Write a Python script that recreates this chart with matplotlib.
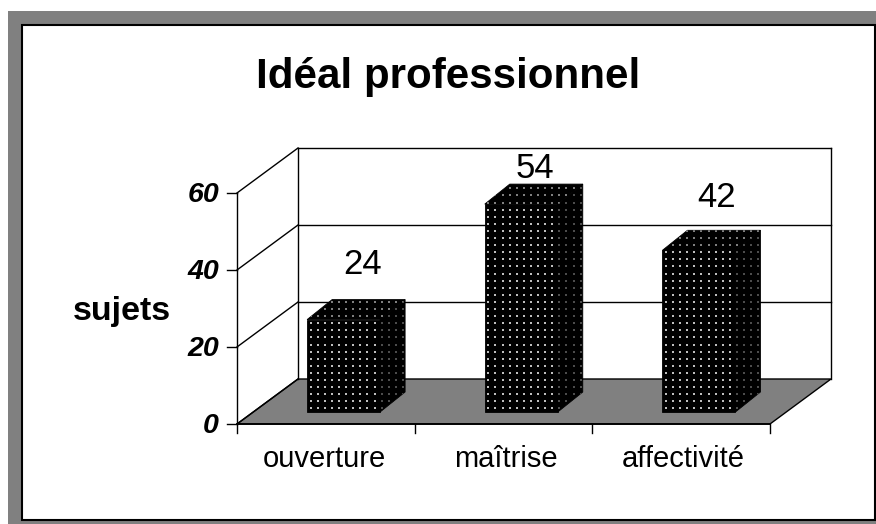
import numpy as np
import matplotlib
matplotlib.use('Agg')
import matplotlib.pyplot as plt
from matplotlib.patches import Polygon, Rectangle

plt.rcParams['font.family'] = ['Liberation Sans', 'DejaVu Sans']

# Donnees
categories = ['ouverture', 'maîtrise', 'affectivité']
sujets = [24, 54, 42]
yticks = [0, 20, 40, 60]

W, H = 876, 524
GRIS = '#808080'

fig = plt.figure(figsize=(W / 100, H / 100), dpi=100, facecolor='white')

# cadre gris + zone blanche, en pixels de la figure
bg = fig.add_axes([0, 0, 1, 1])
bg.set_xlim(0, W)
bg.set_ylim(H, 0)
bg.axis('off')
bg.add_patch(Rectangle((8, 11), W - 8, H - 11, fc=GRIS, ec='none'))
bg.add_patch(Rectangle((21.5, 24.5), 853, 495, fc='white', ec='black', lw=1.5))

# axe principal : la face avant du graphique 3D
x0, x1, y0, y1 = 237, 770, 424, 193
ax = fig.add_axes([x0 / W, 1 - y0 / H, (x1 - x0) / W, (y0 - y1) / H])
ax.set_xlim(0, 3)
ax.set_ylim(0, 60)
ax.patch.set_alpha(0)
for s in ax.spines.values():
    s.set_visible(False)
ax.set_xticks([])
ax.set_yticks([])

# unites de donnees par pixel
ux = 3 / (x1 - x0)
uy = 60 / (y0 - y1)

# profondeur du graphique
dx = 61 * ux
dy = 45 * uy
LW = 1.0

# sol
ax.add_patch(Polygon([(0, 0), (3, 0), (3 + dx, dy), (dx, dy)], fc=GRIS, ec='black',
                     lw=LW, clip_on=False, zorder=1))

# murs et grille
ax.plot([dx, dx], [dy, 60 + dy], color='black', lw=LW, clip_on=False, zorder=1)
ax.plot([3 + dx, 3 + dx], [dy, 60 + dy], color='black', lw=LW, clip_on=False, zorder=1)
ax.plot([0, 0], [0, 60], color='black', lw=LW, clip_on=False, zorder=1)
for v in yticks:
    ax.plot([0, dx], [v, v + dy], color='black', lw=LW, clip_on=False, zorder=1)
    if v > 0:
        ax.plot([dx, 3 + dx], [v + dy, v + dy], color='black', lw=LW, clip_on=False, zorder=1)
    ax.plot([-10 * ux, 0], [v, v], color='black', lw=LW, clip_on=False, zorder=1)
    ax.text(-18 * ux, v - 9 * uy, str(v), ha='right', va='baseline', fontsize=20.5,
            fontweight='bold', fontstyle='italic', clip_on=False)

# axe x
ax.plot([0, 3], [0, 0], color='black', lw=1.3, clip_on=False, zorder=2)
for i in range(4):
    ax.plot([i, i], [0, -2.4], color='black', lw=LW, clip_on=False, zorder=2)

# barres
bw = 73 * ux
bdx = 25 * ux
bdy = 20 * uy
bx = 0.6
by = 12 * uy
pas_x = 7.1 * ux
pas_y = 7.1 * uy

# decalages des etiquettes (pixels) et centres des categories
lab_dx = [18.5, 14, 18]
lab_dy = [26, 6.5, 23]
cat_dx = [-1, 2.5, 2]

for i, (cat, v) in enumerate(zip(categories, sujets)):
    left = i + bx - bw / 2
    right = left + bw
    front = Polygon([(left, by), (right, by), (right, by + v), (left, by + v)],
                    fc='black', ec='black', lw=0.6, clip_on=False, zorder=3)
    side = Polygon([(right, by), (right + bdx, by + bdy), (right + bdx, by + v + bdy), (right, by + v)],
                   fc='black', ec='black', lw=0.6, clip_on=False, zorder=3)
    top = Polygon([(left, by + v), (right, by + v), (right + bdx, by + v + bdy), (left + bdx, by + v + bdy)],
                  fc='black', ec='black', lw=0.6, clip_on=False, zorder=3)
    ax.add_patch(front)
    ax.add_patch(side)
    ax.add_patch(top)

    # trame de points blancs
    gx, gy = np.meshgrid(np.arange(left + pas_x / 2, right + bdx, pas_x),
                         np.arange(by + pas_y / 2, by + v + bdy, pas_y))
    for face, alpha in ((front, 0.75), (side, 0.3), (top, 0.5)):
        pts = ax.scatter(gx.ravel(), gy.ravel(), s=0.55, marker='s', color='white',
                         linewidths=0, alpha=alpha, clip_on=True, zorder=4)
        pts.set_clip_path(face)

    # valeur au dessus de la barre
    ax.text(left + bw / 2 + lab_dx[i] * ux, by + v + bdy + lab_dy[i] * uy, str(v),
            ha='center', va='baseline', fontsize=25, clip_on=False, zorder=5)
    # categorie
    ax.text(i + 0.5 + cat_dx[i] * ux, -11.2, cat, ha='center', va='baseline', fontsize=21, clip_on=False)

# titre + axe y
bg.text(448, 88, 'Idéal professionnel', ha='center', va='baseline', fontsize=30.3, fontweight='bold')
bg.text(122, 320, 'sujets', ha='center', va='baseline', fontsize=24.5, fontweight='bold')

fig.savefig('out.png', dpi=100)
